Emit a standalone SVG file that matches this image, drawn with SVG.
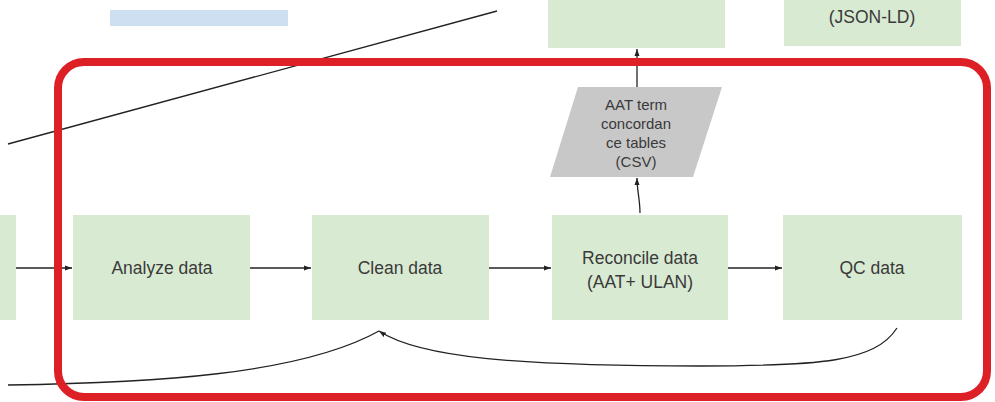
<svg xmlns="http://www.w3.org/2000/svg" width="995" height="402" viewBox="0 0 995 402">
<defs>
<marker id="ah" markerWidth="8" markerHeight="8" refX="7" refY="4" orient="auto" markerUnits="userSpaceOnUse">
<path d="M0,1.5 L7,4 L0,6.5 Z" fill="#222"/>
</marker>
<style>
.box{fill:#d9ead3;}
.lbl{font-family:"Liberation Sans",Arial,sans-serif;font-size:17.5px;fill:#3a3a3a;text-anchor:middle;}
.sm{font-family:"Liberation Sans",Arial,sans-serif;font-size:15px;fill:#3a3a3a;text-anchor:middle;}
.con{fill:none;stroke:#222;stroke-width:1.3;}
</style>
</defs>
<rect width="995" height="402" fill="#ffffff"/>
<g id="blue-box"><rect x="110" y="10" width="178" height="16" fill="#cddff0"/></g>
<g id="top-box-1"><rect x="548" y="0" width="177" height="48" class="box"/></g>
<g id="top-box-2"><rect x="784" y="0" width="177" height="46" class="box"/><text x="872" y="23" class="lbl">(JSON-LD)</text></g>
<g id="left-box"><rect x="0" y="215" width="16" height="105" class="box"/></g>
<g id="analyze"><rect x="73" y="215" width="177" height="105" class="box"/><text x="162" y="274" class="lbl">Analyze data</text></g>
<g id="clean"><rect x="312" y="215" width="177" height="105" class="box"/><text x="400" y="274" class="lbl">Clean data</text></g>
<g id="reconcile"><rect x="552" y="215" width="176" height="105" class="box"/><text x="640" y="264" class="lbl">Reconcile data</text><text x="640" y="288" class="lbl">(AAT+ ULAN)</text></g>
<g id="qc"><rect x="783" y="215" width="179" height="105" class="box"/><text x="872" y="274" class="lbl">QC data</text></g>
<g id="aat"><polygon points="578,87 722,87 693,177 550,177" fill="#c8c8c8"/>
<text x="636" y="110" class="sm">AAT term</text><text x="636" y="129" class="sm">concordan</text><text x="636" y="148" class="sm">ce tables</text><text x="636" y="167" class="sm">(CSV)</text></g>
<g id="connectors">
<line x1="8" y1="144" x2="497" y2="11" class="con"/>
<line x1="16" y1="268" x2="72" y2="268" class="con" marker-end="url(#ah)"/>
<line x1="250" y1="268" x2="311" y2="268" class="con" marker-end="url(#ah)"/>
<line x1="489" y1="268" x2="551" y2="268" class="con" marker-end="url(#ah)"/>
<line x1="728" y1="268" x2="782" y2="268" class="con" marker-end="url(#ah)"/>
<path d="M640,213 C640,200 637,190 637,178" class="con" marker-end="url(#ah)"/>
<line x1="637" y1="87" x2="637" y2="49" class="con" marker-end="url(#ah)"/>
<path d="M897,328 C875,362 820,366 700,366 C520,366 420,358 379,331" class="con" marker-end="url(#ah)"/>
<path d="M8,385 C150,383 300,375 379,331" class="con"/>
</g>
<g id="highlight"><rect x="58" y="62" width="929" height="335" rx="26" ry="26" fill="none" stroke="#dd1f26" stroke-width="8"/></g>
</svg>
